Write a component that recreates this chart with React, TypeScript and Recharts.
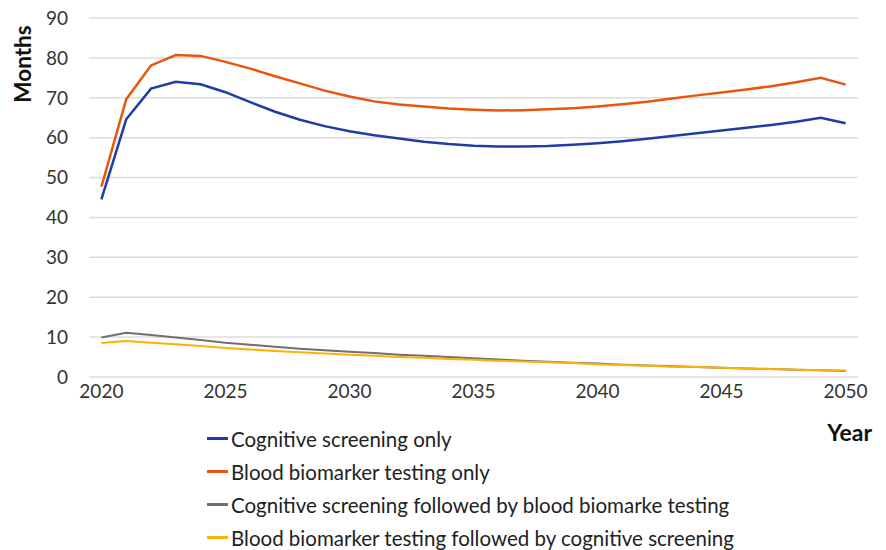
import { LineChart, Line, XAxis, YAxis, CartesianGrid, Legend, Label } from "recharts";

const years = [
  2020, 2021, 2022, 2023, 2024, 2025, 2026, 2027, 2028, 2029, 2030, 2031, 2032, 2033, 2034, 2035,
  2036, 2037, 2038, 2039, 2040, 2041, 2042, 2043, 2044, 2045, 2046, 2047, 2048, 2049, 2050,
];

const cognitiveOnly = [
  44.5, 64.6, 72.3, 74.0, 73.4, 71.4, 68.9, 66.5, 64.5, 62.9, 61.6, 60.6, 59.8, 59.0, 58.4, 58.0,
  57.8, 57.8, 57.9, 58.2, 58.6, 59.1, 59.7, 60.4, 61.1, 61.8, 62.5, 63.2, 64.0, 65.0, 63.6,
];

const bloodOnly = [
  47.7, 69.6, 78.1, 80.7, 80.5, 79.0, 77.3, 75.4, 73.6, 71.8, 70.3, 69.1, 68.3, 67.8, 67.3, 67.0,
  66.8, 66.9, 67.1, 67.4, 67.8, 68.4, 69.0, 69.8, 70.6, 71.3, 72.1, 72.9, 73.9, 75.0, 73.3,
];

const cognitiveThenBlood = [
  9.9, 11.1, 10.5, 9.9, 9.3, 8.6, 8.1, 7.6, 7.1, 6.7, 6.3, 6.0, 5.6, 5.3, 5.0, 4.7,
  4.4, 4.1, 3.8, 3.6, 3.4, 3.1, 2.9, 2.7, 2.5, 2.3, 2.1, 2.0, 1.8, 1.7, 1.5,
];

const bloodThenCognitive = [
  8.5, 9.0, 8.6, 8.2, 7.8, 7.3, 6.9, 6.5, 6.2, 5.9, 5.6, 5.3, 5.0, 4.8, 4.5, 4.3,
  4.1, 3.9, 3.7, 3.5, 3.2, 3.0, 2.8, 2.6, 2.5, 2.3, 2.1, 2.0, 1.8, 1.7, 1.6,
];

const xTicks = [2020, 2025, 2030, 2035, 2040, 2045, 2050];
const yTicks = [0, 10, 20, 30, 40, 50, 60, 70, 80, 90];

const series = [
  { key: "cog", name: "Cognitive screening only", color: "#1F3DA5", width: 2.5 },
  { key: "blood", name: "Blood biomarker testing only", color: "#E8560E", width: 2.5 },
  { key: "cogBlood", name: "Cognitive screening followed by blood biomarke testing", color: "#707070", width: 2 },
  { key: "bloodCog", name: "Blood biomarker testing followed by cognitive screening", color: "#FFB000", width: 2 },
];

const data = years.map((y, i) => ({
  year: y,
  cog: cognitiveOnly[i],
  blood: bloodOnly[i],
  cogBlood: cognitiveThenBlood[i],
  bloodCog: bloodThenCognitive[i],
}));

const FONT = "Lato, 'Open Sans', sans-serif";

function LegendBox() {
  return (
    <div style={{ fontFamily: FONT, fontSize: 20.5, color: "#222" }}>
      {series.map((s) => (
        <div key={s.key} style={{ display: "flex", alignItems: "center", height: 33 }}>
          <span style={{ display: "inline-block", width: 21, height: 2.5, background: s.color, marginRight: 3 }} />
          <span>{s.name}</span>
        </div>
      ))}
    </div>
  );
}

export default function App() {
  return (
    <div style={{ position: "absolute", left: 0, top: 0, background: "#fff" }}>
      <LineChart
        width={886}
        height={550}
        data={data}
        margin={{ top: 18, right: 28, bottom: 143, left: 0 }}
      >
        <CartesianGrid vertical={false} stroke="#dcdcdc" strokeWidth={1.5} />
        <XAxis
          dataKey="year"
          type="number"
          domain={[2019.5, 2050.5]}
          ticks={xTicks}
          axisLine={false}
          tickLine={false}
          tickSize={0}
          tickMargin={8}
          height={30}
          tick={{ fontFamily: FONT, fontSize: 19, fill: "#333" }}
        >
          <Label
            content={({ viewBox }: any) => (
              <text
                x={viewBox.x + viewBox.width + 14}
                y={viewBox.y + 64}
                textAnchor="end"
                fontFamily={FONT}
                fontSize={23}
                fontWeight="bold"
                fill="#111"
              >
                Year
              </text>
            )}
          />
        </XAxis>
        <YAxis
          domain={[0, 90]}
          ticks={yTicks}
          axisLine={false}
          tickLine={false}
          tickSize={0}
          tickMargin={21}
          width={89}
          tick={{ fontFamily: FONT, fontSize: 19, fill: "#333" }}
        >
          <Label
            content={() => (
              <text
                x={22}
                y={64}
                transform="rotate(-90, 22, 64)"
                textAnchor="middle"
                dominantBaseline="central"
                fontFamily={FONT}
                fontSize={22.5}
                fontWeight="bold"
                fill="#111"
              >
                Months
              </text>
            )}
          />
        </YAxis>
        <Legend
          layout="vertical"
          align="center"
          verticalAlign="middle"
          content={() => <LegendBox />}
          wrapperStyle={{ top: 422, left: 207, width: "auto", height: "auto" }}
        />
        {series.map((s) => (
          <Line
            key={s.key}
            type="linear"
            dataKey={s.key}
            name={s.name}
            stroke={s.color}
            strokeWidth={s.width}
            dot={false}
            activeDot={false}
            isAnimationActive={false}
          />
        ))}
      </LineChart>
    </div>
  );
}
